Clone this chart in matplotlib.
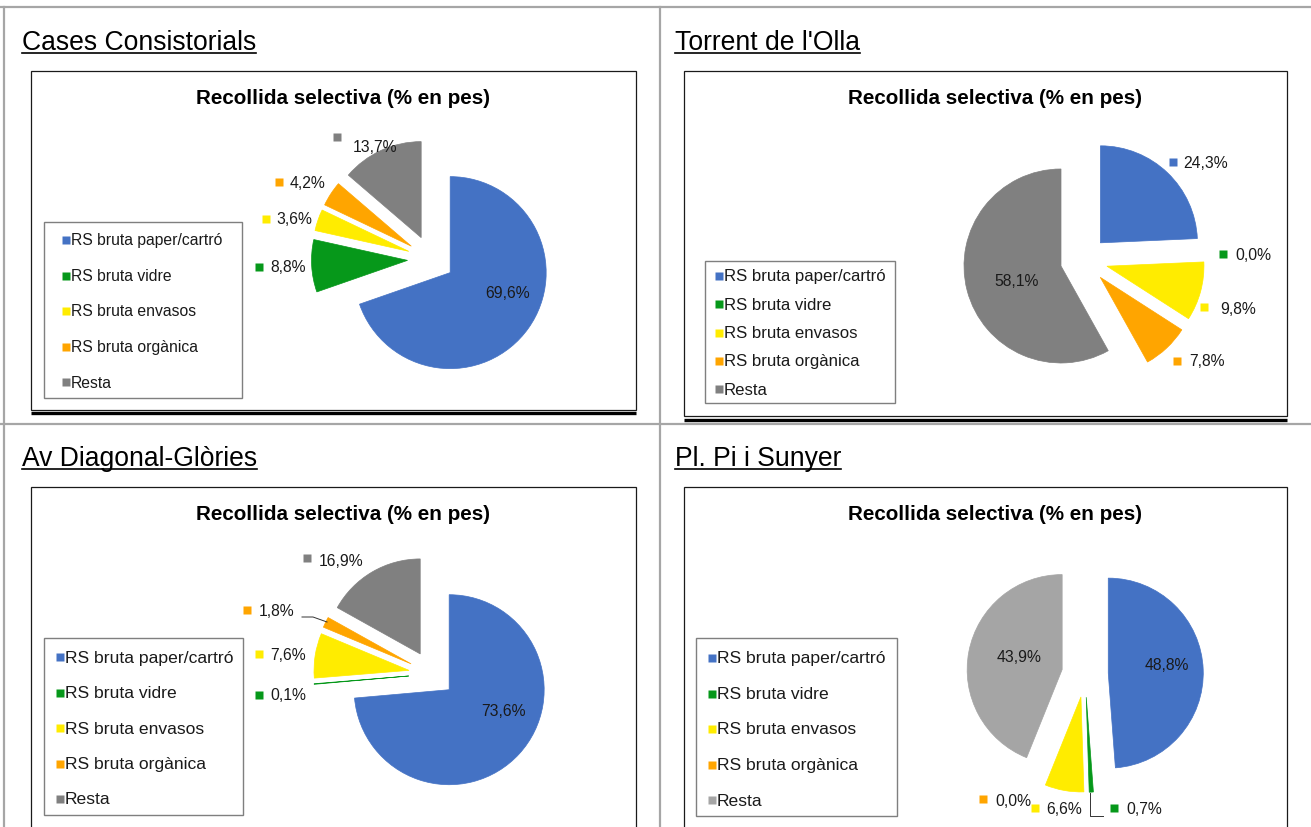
import matplotlib
matplotlib.use('Agg')
import matplotlib.pyplot as plt
from matplotlib.patches import Rectangle

plt.rcParams['font.family'] = ['Liberation Sans', 'DejaVu Sans']

W, H = 1311, 827

# dades
categories = ['RS bruta paper/cartró', 'RS bruta vidre', 'RS bruta envasos',
              'RS bruta orgànica', 'Resta']
site_names = ['Cases Consistorials', "Torrent de l'Olla", 'Av Diagonal-Glòries', 'Pl. Pi i Sunyer']
cases_consistorials = [69.6, 8.8, 3.6, 4.2, 13.7]
torrent_olla = [24.3, 0.0, 9.8, 7.8, 58.1]
diagonal_glories = [73.6, 0.1, 7.6, 1.8, 16.9]
pi_sunyer = [48.8, 0.7, 6.6, 0.0, 43.9]
chart_title = 'Recollida selectiva (% en pes)'

colors = ['#4472C4', '#06981A', '#FFEC00', '#FFA500', '#808080']
colors_pi = ['#4472C4', '#06981A', '#FFEC00', '#FFA500', '#A5A5A5']

# disseny (coordenades en píxels, y cap avall)
panels = [
    dict(values=cases_consistorials, colors=colors,
         title_xy=(22, 50), box=(31, 71, 636, 410), thick_y=413, ctitle_xy=(343, 98),
         center=(431, 259), r=96,
         legend_box=(44, 222, 242, 398), legend_xy=(66, 240), legend_dy=35.5, legend_fs=11.3,
         labels=[('in', (508, 293)), ((259, 267), (270, 268)), ((266, 219), (276, 220)),
                 ((279, 182), (290, 183)), ((337, 137), (353, 147))],
         leader=None),
    dict(values=torrent_olla, colors=colors,
         title_xy=(675, 50), box=(684, 71, 1287, 416), thick_y=420, ctitle_xy=(995, 98),
         center=(1084, 260), r=97,
         legend_box=(705, 261, 895, 403), legend_xy=(719, 276), legend_dy=28.3, legend_fs=12.1,
         labels=[((1173, 162), (1183, 164)), ((1223, 254), (1235, 256)), ((1204, 307), (1220, 310)),
                 ((1177, 361), (1189, 362)), ('in', (1017, 281))],
         leader=None),
    dict(values=diagonal_glories, colors=colors,
         title_xy=(22, 466), box=(31, 487, 636, 845), thick_y=None, ctitle_xy=(343, 514),
         center=(432, 674), r=95,
         legend_box=(44, 638, 243, 815), legend_xy=(60, 657), legend_dy=35.5, legend_fs=12.6,
         labels=[('in', (504, 712)), ((259, 695), (270, 696)), ((259, 654), (270, 656)),
                 ((247, 610), (259, 612)), ((307, 558), (319, 561))],
         leader=[(302, 617), (313, 617), (327, 622)]),
    dict(values=pi_sunyer, colors=colors_pi,
         title_xy=(675, 466), box=(684, 487, 1287, 845), thick_y=None, ctitle_xy=(995, 514),
         center=(1085, 674), r=95,
         legend_box=(696, 638, 897, 816), legend_xy=(712, 658), legend_dy=35.5, legend_fs=12.6,
         labels=[('in', (1167, 666)), ((1114, 808), (1126, 810)), ((1035, 808), (1046, 810)),
                 ((983, 799), (995, 801)), ('in', (1019, 658))],
         leader=[(1090, 793), (1090, 816), (1103, 816)]),
]
explode_frac = 0.245


def Y(y):
    return H - y


def fmt(v):
    return f'{v:.1f}'.replace('.', ',') + '%'


fig = plt.figure(figsize=(W / 100, H / 100), dpi=100)
ax = fig.add_axes([0, 0, 1, 1])

# quadrícula de la taula
grid_c = '#A6A6A6'
ax.plot([0, W], [Y(7), Y(7)], color=grid_c, lw=1.6)
ax.plot([0, W], [Y(424), Y(424)], color=grid_c, lw=1.6)
ax.plot([4, 4], [Y(7), 0], color=grid_c, lw=1.6)
ax.plot([660, 660], [Y(7), 0], color=grid_c, lw=1.6)

title_texts = []
for name, p in zip(site_names, panels):
    # títol de la cel·la (subratllat)
    t = ax.text(p['title_xy'][0], Y(p['title_xy'][1]), name, fontsize=19.1, va='baseline', ha='left')
    title_texts.append((t, p['title_xy']))

    # marc del gràfic
    x0, y0, x1, y1 = p['box']
    ax.add_patch(Rectangle((x0, Y(y1)), x1 - x0, y1 - y0, fill=False, ec='#1A1A1A', lw=0.9))
    if p['thick_y'] is not None:
        ax.plot([x0, x1], [Y(p['thick_y']), Y(p['thick_y'])], color='black', lw=2.4, solid_capstyle='butt')

    ax.text(p['ctitle_xy'][0], Y(p['ctitle_xy'][1]), chart_title, fontsize=14.9,
            fontweight='bold', ha='center', va='center')

    # pastís (explode de matplotlib va en unitats de dades)
    vals = p['values']
    wedges, _ = ax.pie(vals, colors=p['colors'], startangle=90, counterclock=False,
                       explode=[explode_frac * p['r']] * len(vals),
                       center=(p['center'][0], Y(p['center'][1])),
                       radius=p['r'], wedgeprops=dict(linewidth=0))
    for w, c, v in zip(wedges, p['colors'], vals):
        if v > 0:
            w.set_edgecolor(c)
            w.set_linewidth(0.5)

    # etiquetes
    for v, c, lab in zip(vals, p['colors'], p['labels']):
        mk, txy = lab
        if mk == 'in':
            ax.text(txy[0], Y(txy[1]), fmt(v), fontsize=11.3, ha='center', va='center', color='#1A1A1A')
        else:
            ax.plot(mk[0], Y(mk[1]), marker='s', ms=5.6, color=c, mec='none')
            ax.text(txy[0], Y(txy[1]), fmt(v), fontsize=11.3, ha='left', va='center', color='#1A1A1A')
    if p['leader'] is not None:
        ax.plot([q[0] for q in p['leader']], [Y(q[1]) for q in p['leader']], color='#333333', lw=0.7)

    # llegenda
    lx0, ly0, lx1, ly1 = p['legend_box']
    ax.add_patch(Rectangle((lx0, Y(ly1)), lx1 - lx0, ly1 - ly0, fill=False, ec='#7F7F7F', lw=1.0))
    hx, hy = p['legend_xy']
    for i, (cat, c) in enumerate(zip(categories, p['colors'])):
        yy = hy + i * p['legend_dy']
        ax.plot(hx, Y(yy), marker='s', ms=5.6, color=c, mec='none')
        ax.text(hx + 5, Y(yy + 1), cat, fontsize=p['legend_fs'], ha='left', va='center', color='#1A1A1A')

ax.set_xlim(0, W)
ax.set_ylim(0, H)
ax.axis('off')

# subratllat dels títols de cel·la
fig.canvas.draw()
renderer = fig.canvas.get_renderer()
for t, (tx, ty) in title_texts:
    bb = t.get_window_extent(renderer)
    ax.plot([bb.x0, bb.x1], [Y(ty + 3), Y(ty + 3)], color='black', lw=1.2)

fig.savefig('out.png', dpi=100)
